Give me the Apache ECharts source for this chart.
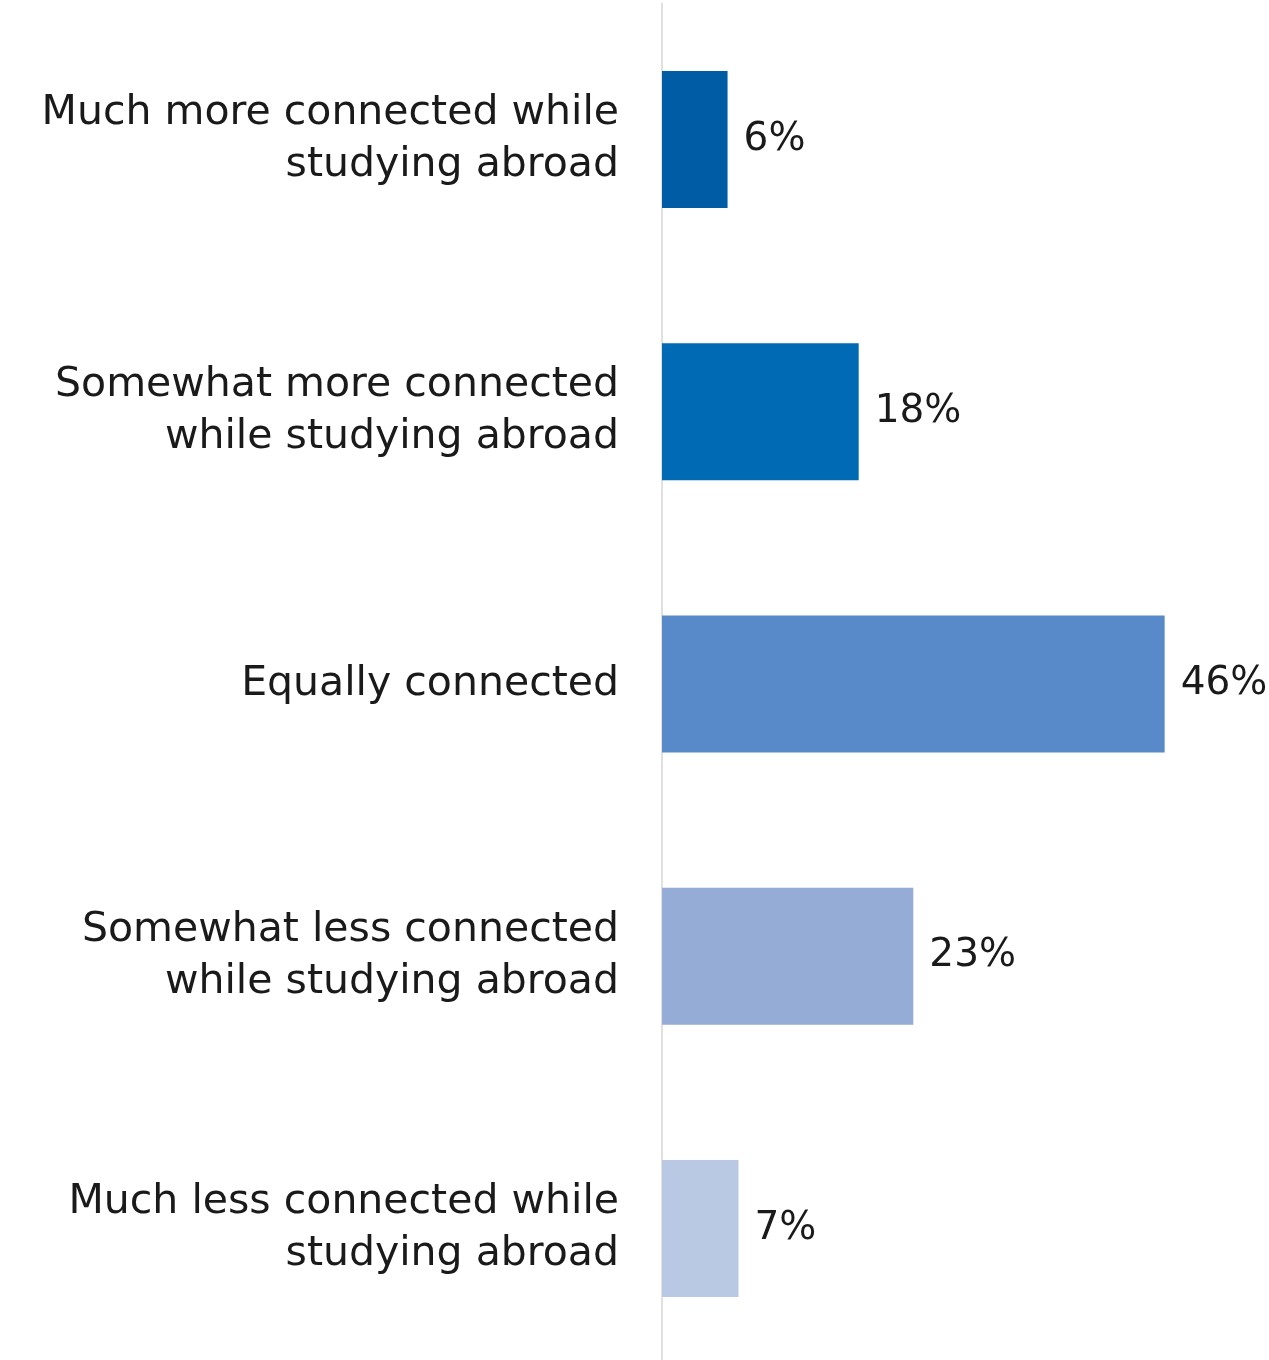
<!DOCTYPE html>
<html>
<head>
<meta charset="utf-8">
<script src="https://cdn.jsdelivr.net/npm/echarts@6/dist/echarts.min.js"></script>
<style>
  html, body { margin: 0; padding: 0; background: #ffffff; overflow: hidden; }
  #chart { width: 1269px; height: 1366px; }
</style>
</head>
<body>
<div id="chart"></div>
<script>
// Survey responses: connection to home while studying abroad
const categories = [
  "Much more connected while\nstudying abroad",
  "Somewhat more connected\nwhile studying abroad",
  "Equally connected",
  "Somewhat less connected\nwhile studying abroad",
  "Much less connected while\nstudying abroad"
];
const percents = [6, 18, 46, 23, 7];
const barColors = ["#005DA5", "#006AB5", "#5889C8", "#95ADD6", "#BAC9E3"];

const chart = echarts.init(document.getElementById("chart"));
chart.setOption({
  animation: false,
  backgroundColor: "#ffffff",
  grid: { left: 662, top: 3.5, width: 601, height: 1361 },
  xAxis: {
    type: "value",
    min: 0,
    max: 55,
    show: false
  },
  yAxis: {
    type: "category",
    inverse: true,
    data: categories,
    axisLine: { show: true, lineStyle: { color: "#e0e0e0", width: 2 } },
    axisTick: { show: false },
    axisLabel: {
      margin: 43,
      fontFamily: "DejaVu Sans",
      fontSize: 41,
      lineHeight: 52,
      color: "#1a1a1a",
      align: "right"
    }
  },
  series: [{
    type: "bar",
    barWidth: 137,
    data: percents.map((v, i) => ({ value: v, itemStyle: { color: barColors[i] } })),
    label: {
      show: true,
      position: "right",
      distance: 16,
      formatter: "{c}%",
      fontFamily: "DejaVu Sans",
      fontSize: 39,
      color: "#1a1a1a"
    }
  }]
});
</script>
</body>
</html>
